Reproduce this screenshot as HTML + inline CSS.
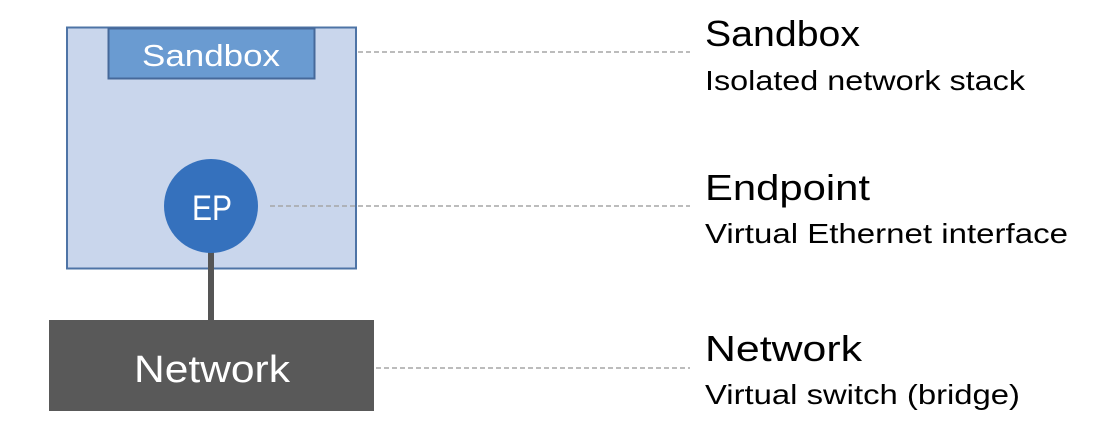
<!DOCTYPE html>
<html><head><style>html,body{margin:0;padding:0;background:#fff;}svg{display:block}</style></head>
<body>
<svg width="1120" height="436" viewBox="0 0 1120 436" xmlns="http://www.w3.org/2000/svg" font-family="'Liberation Sans', sans-serif">
<rect x="67" y="27.5" width="289" height="241" fill="#c9d6ec" stroke="#4e74a6" stroke-width="2"/>
<rect x="108.5" y="28.5" width="206" height="50" fill="#6a9bd1" stroke="#46699a" stroke-width="2"/>
<text x="211" y="66" fill="#fff" font-size="31" text-anchor="middle" textLength="138" lengthAdjust="spacingAndGlyphs">Sandbox</text>
<line x1="211" y1="250" x2="211" y2="322" stroke="#555" stroke-width="6"/>
<circle cx="211" cy="206" r="47" fill="#3571bd"/>
<text x="212" y="220" fill="#fff" font-size="35" text-anchor="middle" textLength="40" lengthAdjust="spacingAndGlyphs">EP</text>
<rect x="49" y="320" width="325" height="91" fill="#595959"/>
<text x="212" y="382" fill="#fff" font-size="38" text-anchor="middle" textLength="156" lengthAdjust="spacingAndGlyphs">Network</text>
<g stroke="#a6a6a6" stroke-width="1.5" stroke-dasharray="5,3">
<line x1="358" y1="52" x2="690" y2="52"/>
<line x1="270" y1="206" x2="690" y2="206"/>
<line x1="376" y1="368" x2="690" y2="368"/>
</g>
<g fill="#000">
<text x="705" y="46" font-size="36" textLength="155" lengthAdjust="spacingAndGlyphs">Sandbox</text>
<text x="705" y="90" font-size="28" textLength="320" lengthAdjust="spacingAndGlyphs">Isolated network stack</text>
<text x="705" y="200" font-size="36" textLength="165" lengthAdjust="spacingAndGlyphs">Endpoint</text>
<text x="705" y="243" font-size="28" textLength="363" lengthAdjust="spacingAndGlyphs">Virtual Ethernet interface</text>
<text x="705" y="361" font-size="36" textLength="157" lengthAdjust="spacingAndGlyphs">Network</text>
<text x="705" y="404" font-size="28" textLength="315" lengthAdjust="spacingAndGlyphs">Virtual switch (bridge)</text>
</g>
</svg>
</body></html>
